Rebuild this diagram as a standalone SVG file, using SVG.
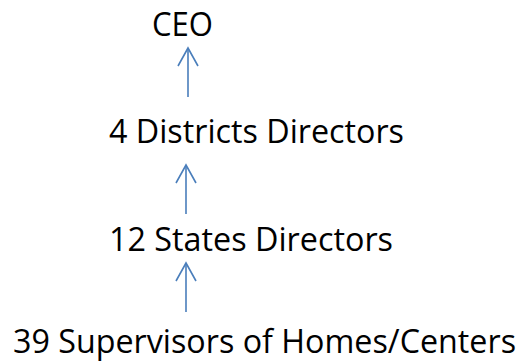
<svg xmlns="http://www.w3.org/2000/svg" width="531" height="362" viewBox="0 0 531 362">
<style>
.t{font-family:"Open Sans","Liberation Sans",Arial,sans-serif;font-size:33px;fill:#000}
.c{fill:none;stroke:#4a7ebb;stroke-width:1.6}
</style>
<defs>
<marker id="ah" markerUnits="userSpaceOnUse" markerWidth="30" markerHeight="30" refX="0" refY="0" orient="auto" overflow="visible">
<path d="M-18,-10 L0,0 L-18,10" fill="none" stroke="#4a7ebb" stroke-width="1.6"/>
</marker>
</defs>
<rect width="531" height="362" fill="#fff"/>
<g id="connectors">
<path class="c" d="M188,97 L188,48" marker-end="url(#ah)"/>
<path class="c" d="M186,214 L186,165" marker-end="url(#ah)"/>
<path class="c" d="M186,312 L186,263" marker-end="url(#ah)"/>
</g>
<g id="ceo"><text class="t" x="152" y="36" textLength="61" lengthAdjust="spacingAndGlyphs">CEO</text></g>
<g id="districts"><text class="t" x="109" y="143" textLength="295" lengthAdjust="spacingAndGlyphs">4 Districts Directors</text></g>
<g id="states"><text class="t" x="109" y="251" textLength="284" lengthAdjust="spacingAndGlyphs">12 States Directors</text></g>
<g id="supervisors"><text class="t" x="13" y="353" style="font-size:32px" textLength="503" lengthAdjust="spacingAndGlyphs">39 Supervisors of Homes/Centers</text></g>
</svg>
